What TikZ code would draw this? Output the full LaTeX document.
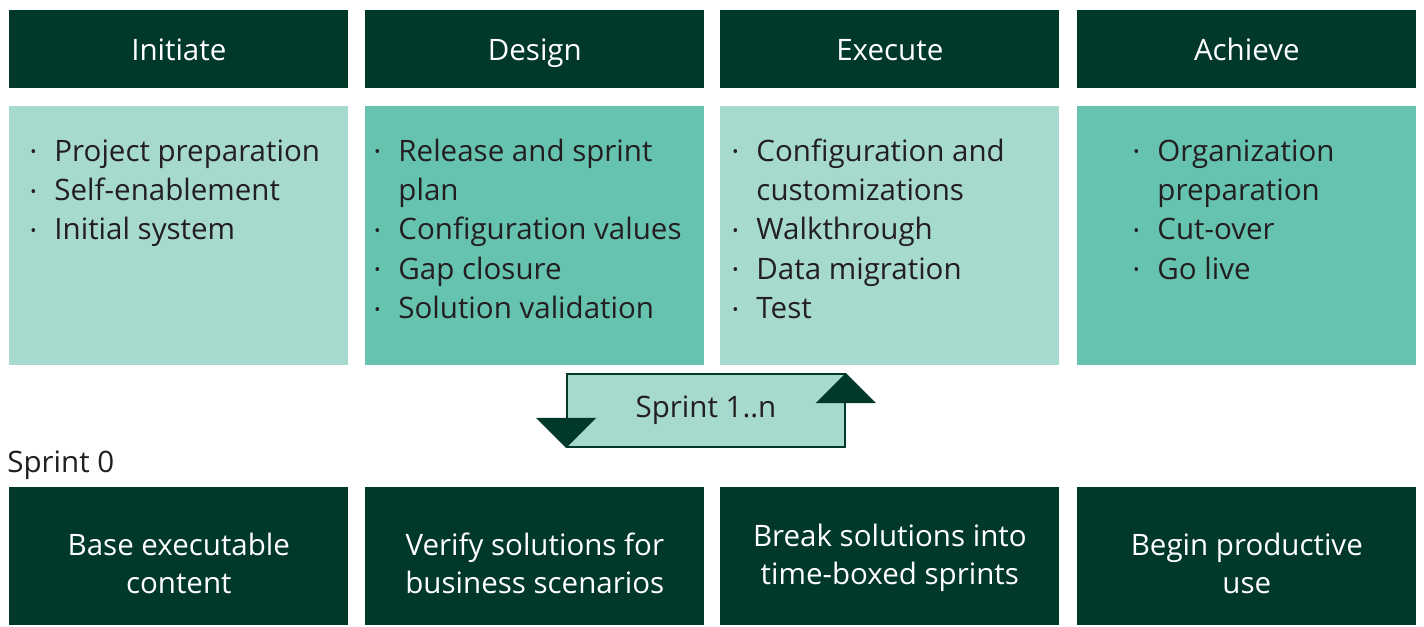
\documentclass[tikz,border=0pt]{standalone}
\usepackage{fontspec}
\setmainfont{Open Sans}
\usetikzlibrary{positioning}

\definecolor{phasedark}{HTML}{00382A}
\definecolor{mintlight}{HTML}{A6DACE}
\definecolor{mintmid}{HTML}{66C3B0}
\definecolor{inkgrey}{HTML}{231F20}

\newcommand{\dotb}{\raisebox{0.2ex}{\scalebox{0.55}{\textbullet}}}

\begin{document}
\begin{tikzpicture}[
  x=0.02cm, y=-0.02cm,
  head/.style={fill=phasedark, text=white, minimum width=6.78cm, minimum height=1.56cm, inner sep=0pt, anchor=north west, text height=0.43cm, text depth=0pt, font=\fontsize{16.8}{21}\selectfont},
  body/.style={minimum width=6.78cm, minimum height=5.18cm, inner sep=0pt, anchor=north west},
  foot/.style={fill=phasedark, text=white, minimum width=6.78cm, minimum height=2.76cm, inner sep=0pt, anchor=north west, align=center, text height=1.78cm, text depth=0.3cm, font=\fontsize{16.8}{21.8}\selectfont},
  list/.style={anchor=base west, inner sep=0pt, text=inkgrey, font=\fontsize{16.8}{22.4}\selectfont},
  loopbox/.style={draw=phasedark, line width=1.1pt, fill=mintlight, minimum width=5.56cm, minimum height=1.46cm, text=inkgrey, font=\fontsize{16.8}{21}\selectfont}
]
\useasboundingbox (0,0) rectangle (1424,626);

% phase headers
\node[head] (initiate) at (9,10) {Initiate};
\node[head] (design) at (365,10) {Design};
\node[head] (execute) at (720,10) {Execute};
\node[head] (achieve) at (1077,10) {Achieve};

% phase contents
\node[body, fill=mintlight] (initbody) at (9,106) {};
\node[body, fill=mintmid] (designbody) at (365,106) {};
\node[body, fill=mintlight] (execbody) at (720,106) {};
\node[body, fill=mintmid] (achbody) at (1077,106) {};

\node[list] (initlist) at (30,161) {\begin{tabular}[t]{@{}l@{\hspace{0.36cm}}l@{}}
\dotb & Project preparation\\
\dotb & Self-enablement\\
\dotb & Initial system
\end{tabular}};
\node[list] (designlist) at (374,161) {\begin{tabular}[t]{@{}l@{\hspace{0.36cm}}l@{}}
\dotb & Release and sprint\\
 & plan\\
\dotb & Configuration values\\
\dotb & Gap closure\\
\dotb & Solution validation
\end{tabular}};
\node[list] (execlist) at (732,161) {\begin{tabular}[t]{@{}l@{\hspace{0.36cm}}l@{}}
\dotb & Configuration and\\
 & customizations\\
\dotb & Walkthrough\\
\dotb & Data migration\\
\dotb & Test
\end{tabular}};
\node[list] (achlist) at (1133,161) {\begin{tabular}[t]{@{}l@{\hspace{0.36cm}}l@{}}
\dotb & Organization\\
 & preparation\\
\dotb & Cut-over\\
\dotb & Go live
\end{tabular}};

% sprint loop
\node[loopbox] (sprint) at (706,410.5) {Sprint 1..n};
\fill[phasedark] (sprint.south west) -- ++(-30,-30) -- ++(60,0) -- cycle;
\fill[phasedark] (sprint.north east) -- ++(-30,30) -- ++(60,0) -- cycle;

\node[list, font=\fontsize{16.8}{21}\selectfont] (sprintzero) at (7,472) {Sprint 0};

% outcomes
\node[foot] (base) at (9,487) {Base executable\\content};
\node[foot] (verify) at (365,487) {Verify solutions for\\business scenarios};
\node[foot, text height=1.44cm] (break) at (720,487) {Break solutions into\\time-boxed sprints};
\node[foot] (begin) at (1077,487) {Begin productive\\use};
\end{tikzpicture}
\end{document}
